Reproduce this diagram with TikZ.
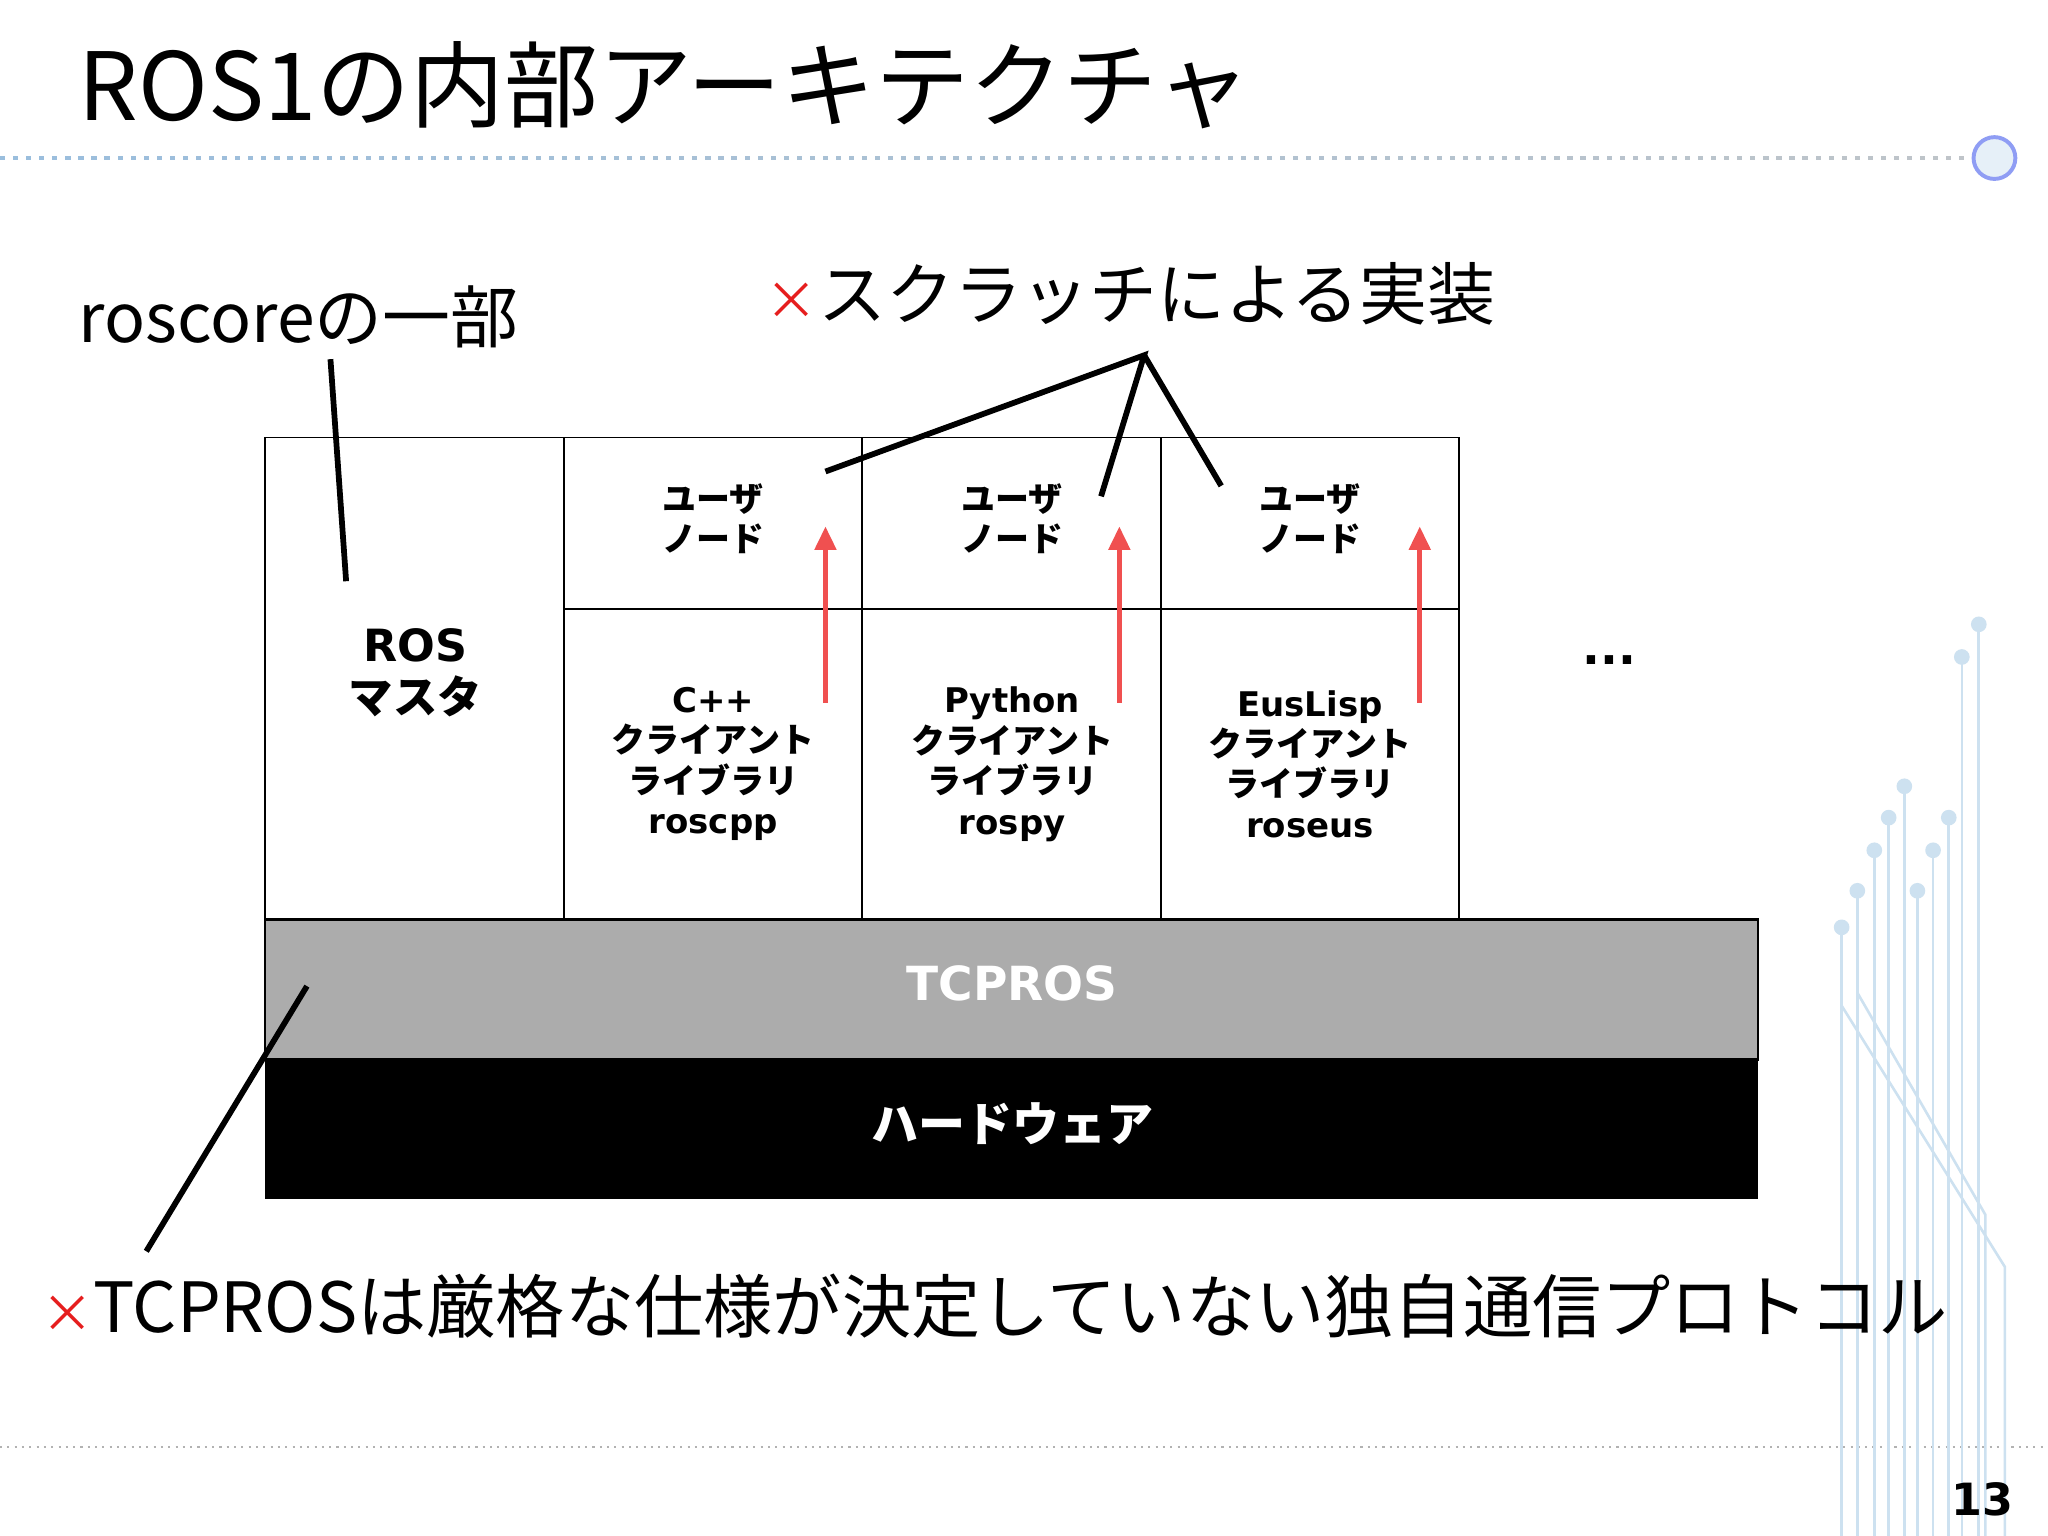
\documentclass[tikz,border=0pt]{standalone}
\usepackage{fontspec}
\setmainfont{Noto Sans CJK JP}
\newfontfamily\lat{DejaVu Sans}
\usetikzlibrary{arrows.meta}
\definecolor{redx}{RGB}{230,30,30}
\definecolor{arr}{RGB}{240,80,80}
\definecolor{deco}{RGB}{205,225,240}
\definecolor{dotblue}{RGB}{30,110,180}
\tikzset{
 cell/.style={draw=black,line width=0.7pt},
 lab/.style={font=\fontsize{13}{15.5}\selectfont\bfseries,align=center},
 uparr/.style={draw=arr,line width=2pt,-{Triangle[length=9pt,width=8pt]}},
 ptr/.style={line width=2.2pt,black},
}
\begin{document}
\begin{tikzpicture}[x=0.5pt,y=-0.5pt]
\useasboundingbox (0,0) rectangle (1568,1176);
\fill[white] (0,0) rectangle (1568,1176);
% title
\node[anchor=base west,inner sep=0,font=\fontsize{36}{38}\selectfont] (title) at (60,92) {ROS1の内部アーキテクチャ};
\foreach \i in {0,...,150}{\pgfmathsetmacro\t{\i/1.5}
 \fill[dotblue!\fpeval{100-\t*0.85}!gray!45] (\i*10,119.5) rectangle ++(4,3);}
\node[circle,draw=deco!70!blue,fill=deco!50,line width=1.5pt,minimum size=16pt] (dot) at (1527,121) {};
\draw[gray!60,dotted,line width=0.8pt] (0,1108) -- (1568,1108);
% decoration
\foreach \x/\y in {1515/478,1502/503,1458/602,1446/626,1492/626,1435/651,1480/651,1422/682,1468/682,1410/710}{
 \draw[deco,line width=1pt] (\x,\y) -- (\x,1176);
 \node[circle,fill=deco,inner sep=0,minimum size=6pt] at (\x,\y) {};}
\draw[deco,line width=1pt] (1410,770) -- (1535,970) -- (1535,1176);
\draw[deco,line width=1pt] (1422,760) -- (1520,930) -- (1520,1176);
\node[font=\lat\bfseries\fontsize{17}{18}\selectfont] (pg) at (1518,1148) {13};
% boxes
\draw[cell] (203,335) rectangle (432,704);
\foreach \a/\b in {432/660,660/889,889/1117}{
 \draw[cell] (\a,335) rectangle (\b,466);
 \draw[cell] (\a,466) rectangle (\b,704);}
\node[lab,font=\fontsize{17}{20}\selectfont\bfseries] (master) at (318,515) {{\lat ROS}\\マスタ};
\foreach \x/\n in {546/a,775/b,1003/c}
 \node[lab] (u\n) at (\x,397) {ユーザ\\ノード};
\node[lab] (la) at (546,585) {{\lat C++}\\クライアント\\ライブラリ\\{\lat roscpp}};
\node[lab] (lb) at (775,585) {{\lat Python}\\クライアント\\ライブラリ\\{\lat rospy}};
\node[lab] (lc) at (1003,585) {{\lat EusLisp}\\クライアント\\ライブラリ\\{\lat roseus}};
\node[font=\lat\bfseries\fontsize{18}{20}\selectfont] (dots) at (1232,505) {...};
\foreach \x/\n in {632/a,857/b,1087/c}{
 \coordinate (s\n) at (\x,538); \coordinate (e\n) at (\x,403);
 \draw[uparr] (s\n) -- (e\n);}
\fill[gray!65] (203,704) rectangle (1346,811);
\draw[line width=1pt] (203,704) rectangle (1346,811);
\node[font=\lat\bfseries\fontsize{18}{20}\selectfont,text=white] (tcp) at (775,753) {TCPROS};
\fill[black] (203,811) rectangle (1346,918);
\node[font=\fontsize{18}{20}\selectfont\bfseries,text=white] (hw) at (775,860) {ハードウェア};
% callouts
\node[anchor=base west,inner sep=0,font=\fontsize{26}{28}\selectfont] (rc) at (60,262) {roscoreの一部};
\coordinate (rc1) at (253,275); \coordinate (rc2) at (265,445);
\draw[ptr] (rc1) -- (rc2);
\node[anchor=base west,inner sep=0,font=\fontsize{26}{28}\selectfont] (scr) at (586,245) {\textcolor{redx}{\fontsize{20}{20}\selectfont×}スクラッチによる実装};
\coordinate (hub) at (876,272);
\draw[ptr] (632,361) -- (hub) -- (843,380);
\draw[ptr] (hub) -- (935,372);
\coordinate (t1) at (235,755); \coordinate (t2) at (112,958);
\draw[ptr] (t1) -- (t2);
\node[anchor=base west,inner sep=0,font=\fontsize{26.5}{28}\selectfont] (bot) at (31,1020) {\textcolor{redx}{\fontsize{20}{20}\selectfont×}TCPROSは厳格な仕様が決定していない独自通信プロトコル};
\end{tikzpicture}
\end{document}
